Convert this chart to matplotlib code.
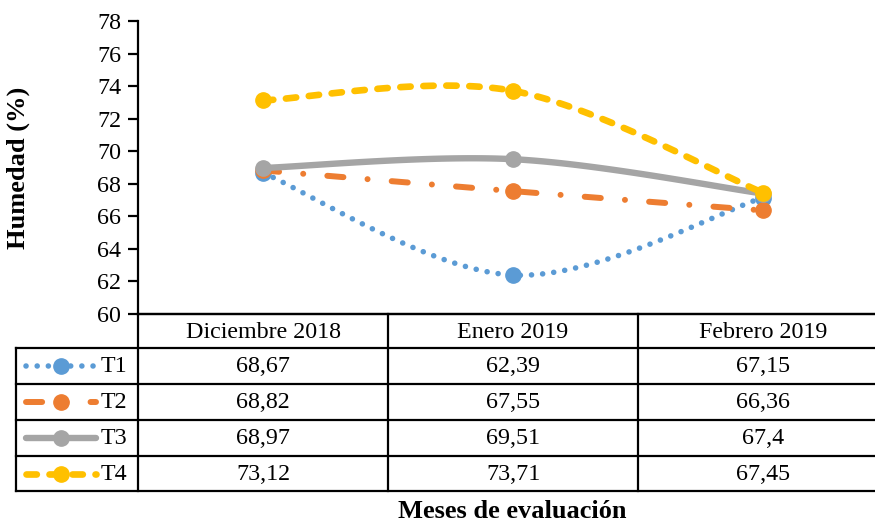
import numpy as np
import matplotlib
matplotlib.use("Agg")
import matplotlib.pyplot as plt

categories = ["Diciembre 2018", "Enero 2019", "Febrero 2019"]
series_names = ["T1", "T2", "T3", "T4"]
t1 = [68.67, 62.39, 67.15]
t2 = [68.82, 67.55, 66.36]
t3 = [68.97, 69.51, 67.4]
t4 = [73.12, 73.71, 67.45]
labels_t1 = ["68,67", "62,39", "67,15"]
labels_t2 = ["68,82", "67,55", "66,36"]
labels_t3 = ["68,97", "69,51", "67,4"]
labels_t4 = ["73,12", "73,71", "67,45"]
yticks = [60, 62, 64, 66, 68, 70, 72, 74, 76, 78]

values = [t1, t2, t3, t4]
cell_labels = [labels_t1, labels_t2, labels_t3, labels_t4]
colors = ["#5B9BD5", "#ED7D31", "#A5A5A5", "#FFC000"]
styles = [
    dict(dashes=(0.01, 2.0), lw=4.0),
    dict(dashes=(2.7, 4.05, 0.01, 4.05), lw=4.3),
    dict(dashes=None, lw=4.6),
    dict(dashes=(1.55, 1.9), lw=4.8),
]

plt.rcParams['font.family'] = ['Liberation Serif', 'DejaVu Serif']
FS = 17.3
FSB = 19

W, H = 875, 525
fig = plt.figure(figsize=(W / 100, H / 100), dpi=100)

left_px, top_px, bottom_px = 138, 21, 314
colw = 250
ax = fig.add_axes([left_px / W, (H - bottom_px) / H, 3 * colw / W, (bottom_px - top_px) / H])
ax.set_xlim(-0.5, 2.5)
ax.set_ylim(60, 78)
ax.set_yticks(yticks)
ax.set_xticks([])
for s in ["top", "right"]:
    ax.spines[s].set_visible(False)
ax.spines["left"].set_linewidth(1.6)
ax.spines["bottom"].set_linewidth(1.6)
ax.tick_params(axis="y", direction="out", length=7, width=1.6, labelsize=FS, pad=5)
ax.set_ylabel("Humedad (%)", fontsize=FSB, fontweight="bold")
ax.yaxis.set_label_coords((30 - left_px) / (3 * colw), 0.5 + (167.5 - (top_px + bottom_px) / 2) / -(bottom_px - top_px))


def smooth(xs, ys, n=60):
    P = np.column_stack([xs, ys]).astype(float)
    out = []
    m = len(P)
    for i in range(m - 1):
        prev = P[i - 1] if i > 0 else P[i]
        nxt = P[i + 2] if i + 2 < m else P[i + 1]
        c1 = P[i] + (P[i + 1] - prev) / 6
        c2 = P[i + 1] - (nxt - P[i]) / 6
        t = np.linspace(0, 1, n)[:, None]
        seg = ((1 - t) ** 3) * P[i] + 3 * ((1 - t) ** 2) * t * c1 + 3 * (1 - t) * t ** 2 * c2 + t ** 3 * P[i + 1]
        if i > 0:
            seg = seg[1:]
        out.append(seg)
    out = np.vstack(out)
    return out[:, 0], out[:, 1]


xs = np.arange(len(categories))
for k, (vals, c, st) in enumerate(zip(values, colors, styles)):
    sx, sy = smooth(xs, vals)
    line, = ax.plot(sx, sy, color=c, lw=st["lw"], solid_capstyle="round",
                    dash_capstyle="round", zorder=2 + k, clip_on=False)
    if st["dashes"] is not None:
        line.set_dashes(st["dashes"])
    ax.plot(xs, vals, ls="none", marker="o", ms=11, color=c, mec=c, zorder=2.5 + k, clip_on=False)

# table
tab_left = 16
row_edges = [314, 348, 384, 420, 456, 491]
tax = fig.add_axes([0, 0, 1, 1])
tax.set_xlim(0, W)
tax.set_ylim(H, 0)
tax.axis("off")
lk = dict(color="black", lw=1.6, solid_capstyle="projecting")
col_edges = [left_px + i * colw for i in range(len(categories) + 1)]
for j, y in enumerate(row_edges):
    x0 = left_px if j == 0 else tab_left
    tax.plot([x0, col_edges[-1]], [y, y], **lk)
tax.plot([tab_left, tab_left], [row_edges[1], row_edges[-1]], **lk)
tax.plot([left_px, left_px], [row_edges[0], row_edges[-1]], **lk)
for x in col_edges[1:]:
    tax.plot([x, x], [row_edges[0], row_edges[-1]], **lk)

for i, cat in enumerate(categories):
    cx = left_px + colw * (i + 0.5)
    tax.text(cx, (row_edges[0] + row_edges[1]) / 2 + 1, cat, ha="center", va="center", fontsize=FS)
    for r in range(len(series_names)):
        cy = (row_edges[r + 1] + row_edges[r + 2]) / 2 + 1
        tax.text(cx, cy, cell_labels[r][i], ha="center", va="center", fontsize=FS)

for r, (name, c, st) in enumerate(zip(series_names, colors, styles)):
    cy = (row_edges[r + 1] + row_edges[r + 2]) / 2
    kx = np.linspace(26, 96, 30)
    ln, = tax.plot(kx, np.full_like(kx, cy), color=c, lw=st["lw"], solid_capstyle="round",
                   dash_capstyle="round")
    if st["dashes"] is not None:
        ln.set_dashes(st["dashes"])
    tax.plot([61], [cy], marker="o", ms=11, color=c, mec=c)
    tax.text(101, cy + 1, name, ha="left", va="center", fontsize=FS)

fig.text(512 / W, 1 - 512 / H, "Meses de evaluación", ha="center", va="center",
         fontsize=FSB, fontweight="bold")

fig.savefig("out.png", dpi=100)
